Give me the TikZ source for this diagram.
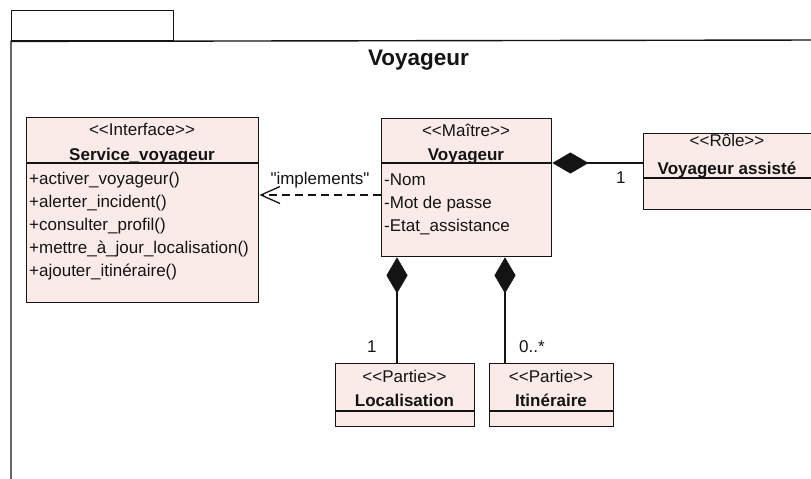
\documentclass[tikz,border=0pt]{standalone}
\usepackage{fontspec}
\newfontfamily\arialf{Liberation Sans}
\usetikzlibrary{arrows.meta,calc}
\definecolor{boxfill}{RGB}{250,235,232}
\definecolor{ink}{RGB}{20,20,20}
\tikzset{
  txt/.style={inner sep=0pt, text=ink, font=\arialf\fontsize{17}{20}\selectfont},
  txtb/.style={inner sep=0pt, text=ink, font=\arialf\fontsize{17}{20}\selectfont\bfseries},
  umlbox/.style={draw=ink, fill=boxfill, line width=1.4pt, inner sep=0pt, anchor=north west},
  sepline/.style={draw=ink, line width=1.4pt},
  frameline/.style={draw=ink, line width=1.4pt},
  comp/.style={draw=ink, line width=1.4pt, {Diamond[length=36pt,width=21pt,line width=0.5pt]}-},
  dep/.style={draw=ink, line width=1.3pt, dash pattern=on 8pt off 5pt, -{Straight Barb[length=19pt,width=17pt,line width=1.3pt]}}
}
\begin{document}
\begin{tikzpicture}[x=1pt,y=-1pt]
\useasboundingbox (0,0) rectangle (811,479);
\clip (0,0) rectangle (811,479);
\fill[white] (0,0) rectangle (811,479);

% package frame
\node[draw=ink, line width=1.4pt, inner sep=0pt, minimum width=162pt, minimum height=30pt, anchor=north west] (tab) at (11,10) {};
\draw[frameline] (11,490) -- (tab.south west) -- (820,40);
\node[inner sep=0pt, text=ink, font=\arialf\fontsize{22.5}{26}\selectfont\bfseries, anchor=base] (title) at (418.5,65) {Voyageur};

% Service_voyageur
\node[umlbox, minimum width=232pt, minimum height=185pt] (svc) at (26,117) {};
\draw[sepline] ([yshift=-46pt]svc.north west) -- ([yshift=-46pt]svc.north east);
\node[txt, anchor=base] (svcS) at (142,135) {<<Interface>>};
\node[txtb, anchor=base] (svcN) at (142,160) {Service\_voyageur};
\node[txt, anchor=base west] (op1) at (29,184.5) {+activer\_voyageur()};
\node[txt, anchor=base west] (op2) at (29,207.5) {+alerter\_incident()};
\node[txt, anchor=base west] (op3) at (29,230.5) {+consulter\_profil()};
\node[txt, anchor=base west] (op4) at (29,253.5) {+mettre\_à\_jour\_localisation()};
\node[txt, anchor=base west] (op5) at (29,276.5) {+ajouter\_itinéraire()};

% Voyageur (Maitre)
\node[umlbox, minimum width=170pt, minimum height=138pt] (voy) at (381,118) {};
\draw[sepline] ([yshift=-45pt]voy.north west) -- ([yshift=-45pt]voy.north east);
\node[txt, anchor=base] (voyS) at (466,136) {<<Maître>>};
\node[txtb, anchor=base] (voyN) at (466,160) {Voyageur};
\node[txt, anchor=base west] (at1) at (384,185) {-Nom};
\node[txt, anchor=base west] (at2) at (384,208) {-Mot de passe};
\node[txt, anchor=base west] (at3) at (384,231) {-Etat\_assistance};

% Role
\node[umlbox, minimum width=170pt, minimum height=76pt] (role) at (643,133) {};
\draw[sepline] ([yshift=-45pt]role.north west) -- ([yshift=-45pt]role.north east);
\node[txt, anchor=base] (roleS) at (727,146) {<<Rôle>>};
\node[txtb, anchor=base] (roleN) at (727,174) {Voyageur assisté};

% Localisation
\node[umlbox, minimum width=139pt, minimum height=63pt] (loc) at (335,363) {};
\draw[sepline] ([yshift=-48pt]loc.north west) -- ([yshift=-48pt]loc.north east);
\node[txt, anchor=base] (locS) at (404.5,382) {<<Partie>>};
\node[txtb, anchor=base] (locN) at (404.5,406) {Localisation};

% Itineraire
\node[umlbox, minimum width=124pt, minimum height=63pt] (iti) at (489,363) {};
\draw[sepline] ([yshift=-48pt]iti.north west) -- ([yshift=-48pt]iti.north east);
\node[txt, anchor=base] (itiS) at (551,382) {<<Partie>>};
\node[txtb, anchor=base] (itiN) at (551,406) {Itinéraire};

% connectors
\coordinate (voyE) at ([yshift=-45pt]voy.north east);
\coordinate (voyW) at ([yshift=-77pt]voy.north west);
\coordinate (voyB1) at ([xshift=16pt]voy.south west);
\coordinate (voyB2) at ([xshift=124pt]voy.south west);

\draw[comp] (voyE) -- (voyE -| role.west);
\draw[comp] (voyB1) -- (voyB1 |- loc.north);
\draw[comp] (voyB2) -- (voyB2 |- iti.north);
\draw[dep] (voyW) -- (voyW -| svc.east);

% labels
\node[txt, anchor=base] (impl) at (320,184) {"implements"};
\node[txt, anchor=base west] (m1) at (616,183) {1};
\node[txt, anchor=base west] (m2) at (367,352) {1};
\node[txt, anchor=base west] (m3) at (519,352) {0..*};
\end{tikzpicture}
\end{document}
